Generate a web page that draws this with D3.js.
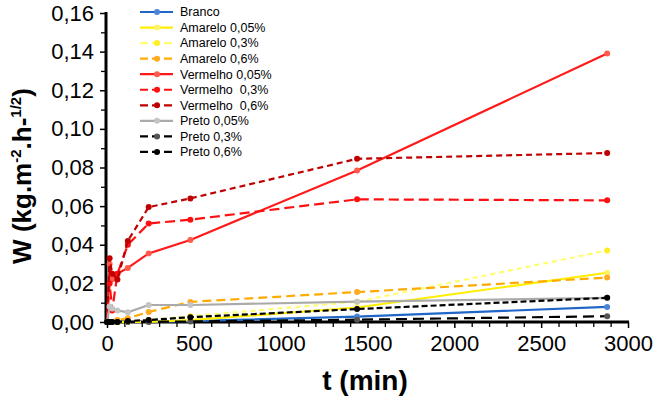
<!DOCTYPE html>
<html>
<head>
<meta charset="utf-8">
<script src="https://cdn.jsdelivr.net/npm/d3@7"></script>
<style>
  body { margin: 0; background: #fff; }
  svg { font-family: "Liberation Sans", Arial, sans-serif; }
</style>
</head>
<body>
<script>
// time points (min)
const times = [0, 15, 30, 60, 120, 240, 480, 1440, 2880];

const seriesNames = ["Branco", "Amarelo 0,05%", "Amarelo 0,3%", "Amarelo 0,6%",
  "Vermelho 0,05%", "Vermelho  0,3%", "Vermelho  0,6%",
  "Preto 0,05%", "Preto 0,3%", "Preto 0,6%"];

const branco     = [0, 0, 0, 0, 0, 0, 0.0005, 0.0028, 0.0078];
const amarelo005 = [0, 0, 0, 0, 0, 0, 0.001, 0.0075, 0.0255];
const amarelo03  = [0, 0, 0, 0, 0, 0.001, 0.003, 0.0105, 0.037];
const amarelo06  = [0, 0, 0, 0.001, 0.002, 0.0052, 0.0104, 0.0155, 0.023];
const vermelho005 = [0, 0.03, 0.022, 0.025, 0.028, 0.0355, 0.0425, 0.0785, 0.139];
const vermelho03  = [0, 0.02, 0.006, 0.025, 0.04, 0.051, 0.053, 0.0635, 0.063];
const vermelho06  = [0, 0.033, 0.025, 0.022, 0.042, 0.0595, 0.064, 0.0845, 0.0875];
const preto005 = [0, 0.008, 0.007, 0.006, 0.005, 0.0088, 0.0088, 0.0105, 0.0125];
const preto03  = [0, 0, 0, 0, 0, 0, 0.0003, 0.0012, 0.003];
const preto06  = [0, 0, 0, 0, 0.0005, 0.001, 0.0025, 0.0067, 0.0125];

const yTicks = [0, 0.02, 0.04, 0.06, 0.08, 0.10, 0.12, 0.14, 0.16];
const xTicks = [0, 500, 1000, 1500, 2000, 2500, 3000];

const allValues = [branco, amarelo005, amarelo03, amarelo06, vermelho005, vermelho03, vermelho06, preto005, preto03, preto06];

// look of each series: line colour, marker colour, dash
const styles = [
  { c: "#1f66c8", m: "#4a86d6", dash: null },
  { c: "#ffee00", m: "#fff36a", dash: null },
  { c: "#ffff70", m: "#ffee22", dash: "5,4" },
  { c: "#ffaa00", m: "#ffaa22", dash: "9,5" },
  { c: "#ff1a1a", m: "#ff5a4a", dash: null },
  { c: "#ff1010", m: "#ff1010", dash: "10,5" },
  { c: "#c00000", m: "#c00000", dash: "6,4" },
  { c: "#aaaaaa", m: "#c4c4c4", dash: null },
  { c: "#000000", m: "#555555", dash: "11,6" },
  { c: "#000000", m: "#000000", dash: "6,3" }
];

const width = 654, height = 397;
const svg = d3.select("body").append("svg")
  .attr("width", width)
  .attr("height", height);

const x = d3.scaleLinear().domain([0, 3000]).range([107, 628]);
const y = d3.scaleLinear().domain([0, 0.16]).range([322, 13]);

const loc = d3.formatLocale({ decimal: ",", thousands: "", grouping: [3], currency: ["", ""] });
const fmt = loc.format(".2f");

// minor ticks
svg.append("g")
  .attr("transform", "translate(106,0)")
  .call(d3.axisLeft(y).tickValues(d3.range(0.01, 0.16, 0.02)).tickSize(5).tickFormat(""))
  .call(g => g.select(".domain").remove())
  .selectAll("line").attr("stroke-width", 1.3);

svg.append("g")
  .attr("transform", "translate(0,322)")
  .call(d3.axisBottom(x).tickValues(d3.range(100, 3000, 100).filter(v => v % 500)).tickSize(5).tickFormat(""))
  .call(g => g.select(".domain").remove())
  .selectAll("line").attr("stroke-width", 1.3);

// major axes
const yAxis = svg.append("g")
  .attr("transform", "translate(106,0)")
  .call(d3.axisLeft(y).tickValues(yTicks).tickSize(6).tickPadding(6).tickFormat(fmt));
yAxis.select(".domain").attr("stroke-width", 3).attr("d", "M0,12V323.5");
yAxis.selectAll(".tick line").attr("stroke-width", 1.5);
yAxis.selectAll("text").attr("font-size", 22).attr("fill", "#000");

const xAxis = svg.append("g")
  .attr("transform", "translate(0,322)")
  .call(d3.axisBottom(x).tickValues(xTicks).tickSize(6).tickPadding(6).tickFormat(d3.format("d")));
xAxis.select(".domain").attr("stroke-width", 3).attr("d", "M104.5,0H629");
xAxis.selectAll(".tick line").attr("stroke-width", 1.5);
xAxis.selectAll("text").attr("font-size", 22).attr("fill", "#000").attr("dy", "0.78em");

// series
const line = d3.line().x((d, i) => x(times[i])).y(d => y(d));

allValues.forEach((vals, k) => {
  const s = styles[k];
  const g = svg.append("g");
  g.append("path")
    .datum(vals)
    .attr("fill", "none")
    .attr("stroke", s.c)
    .attr("stroke-width", 2.2)
    .attr("stroke-dasharray", s.dash)
    .attr("d", line);
  g.selectAll("circle")
    .data(vals)
    .join("circle")
    .attr("cx", (d, i) => x(times[i]))
    .attr("cy", d => y(d))
    .attr("r", 3)
    .attr("fill", s.m);
});

// legend
const legend = svg.append("g").attr("transform", "translate(140,12)");
seriesNames.forEach((name, k) => {
  const s = styles[k];
  const row = legend.append("g").attr("transform", `translate(0,${k * 15.55})`);
  row.append("line")
    .attr("x1", 0).attr("x2", 33)
    .attr("stroke", s.c)
    .attr("stroke-width", 2.2)
    .attr("stroke-dasharray", s.dash ? "8,4" : null);
  row.append("circle").attr("cx", 17).attr("r", 3).attr("fill", s.m);
  row.append("text")
    .attr("x", 40).attr("dy", "0.35em")
    .attr("font-size", 12.5)
    .style("white-space", "pre")
    .text(name);
});

// axis titles
svg.append("text")
  .attr("x", 365).attr("y", 390)
  .attr("text-anchor", "middle")
  .attr("font-size", 28).attr("font-weight", "bold")
  .text("t (min)");

const yt = svg.append("text")
  .attr("transform", "translate(31,176) rotate(-90)")
  .attr("text-anchor", "middle")
  .attr("font-size", 26).attr("font-weight", "bold");
yt.append("tspan").text("W (kg.m");
yt.append("tspan").attr("font-size", 15).attr("dy", -10).text("-2");
yt.append("tspan").attr("dy", 10).text(".h-");
yt.append("tspan").attr("font-size", 15).attr("dy", -10).text("1/2");
yt.append("tspan").attr("dy", 10).text(")");
</script>
</body>
</html>
